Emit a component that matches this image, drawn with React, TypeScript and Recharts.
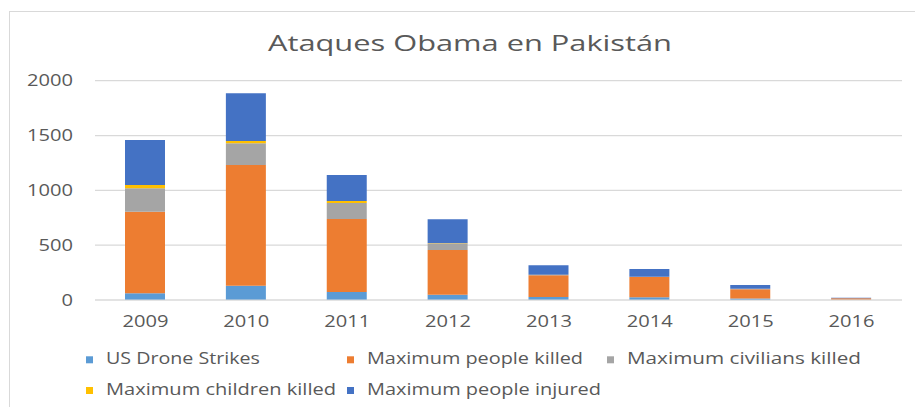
import { BarChart, Bar, XAxis, YAxis, CartesianGrid } from "recharts";

const years = ["2009", "2010", "2011", "2012", "2013", "2014", "2015", "2016"];
const droneStrikes = [61, 130, 73, 48, 27, 25, 13, 3];
const peopleKilled = [744, 1101, 666, 408, 198, 185, 85, 12];
const civiliansKilled = [214, 198, 146, 61, 4, 2, 5, 1];
const childrenKilled = [30, 21, 18, 2, 1, 0, 0, 0];
const peopleInjured = [410, 435, 237, 217, 87, 71, 34, 5];
const yTicks = [0, 500, 1000, 1500, 2000];

const series = [
  { key: "drone", name: "US Drone Strikes", color: "#5B9BD5", values: droneStrikes },
  { key: "killed", name: "Maximum people killed", color: "#ED7D31", values: peopleKilled },
  { key: "civilians", name: "Maximum civilians killed", color: "#A5A5A5", values: civiliansKilled },
  { key: "children", name: "Maximum children killed", color: "#FFC000", values: childrenKilled },
  { key: "injured", name: "Maximum people injured", color: "#4472C4", values: peopleInjured },
];

const data = years.map((year, i) => {
  const row: Record<string, string | number> = { year };
  series.forEach((s) => (row[s.key] = s.values[i]));
  return row;
});

const FONT = "'Open Sans', sans-serif";
const TEXT = "#595959";
const GRID = "#d9d9d9";

// legend slots (square x, text width, row)
const legendSlots = [
  { x: 86, w: 154, row: 0 },
  { x: 347, w: 216, row: 0 },
  { x: 607, w: 234, row: 0 },
  { x: 86, w: 230, row: 1 },
  { x: 347, w: 234, row: 1 },
];

const YTick = (props: any) => {
  const { x, y, payload } = props;
  const label = String(payload.value);
  return (
    <text x={x} y={y} dy={5.5} textAnchor="end" fill={TEXT} fontSize={15.5} fontFamily={FONT}
      textLength={label.length * 11.5} lengthAdjust="spacingAndGlyphs">
      {label}
    </text>
  );
};

const XTick = (props: any) => {
  const { x, y, payload } = props;
  return (
    <text x={x} y={y} textAnchor="middle" fill={TEXT} fontSize={15.5} fontFamily={FONT}
      textLength={46} lengthAdjust="spacingAndGlyphs">
      {payload.value}
    </text>
  );
};

export default function App() {
  return (
    <div style={{ position: "fixed", left: 0, top: 0, width: 915, height: 407, overflow: "hidden", background: "#fff" }}>
      <div style={{ position: "absolute", left: 9, top: 11, width: 1000, height: 500, borderLeft: `1.5px solid ${GRID}`, borderTop: `1.5px solid ${GRID}` }} />
      <div style={{ position: "absolute", left: 0, top: 0 }}>
        <BarChart width={915} height={407} data={data} barSize={40}
          margin={{ top: 80.7, right: 13, bottom: 77, left: 15 }}>
          <CartesianGrid vertical={false} stroke={GRID} strokeWidth={1.2} />
          <XAxis dataKey="year" height={30} axisLine={{ stroke: GRID, strokeWidth: 1.2 }} tickLine={false}
            tickSize={0} tickMargin={27} tick={<XTick />} interval={0} />
          <YAxis domain={[0, 2000]} ticks={yTicks} width={80} axisLine={false} tickLine={false}
            tickSize={0} tickMargin={22} tick={<YTick />} interval={0} />
          {series.map((s) => (
            <Bar key={s.key} dataKey={s.key} name={s.name} stackId="a" fill={s.color} isAnimationActive={false} />
          ))}
        </BarChart>
      </div>
      <svg width={915} height={407} style={{ position: "absolute", left: 0, top: 0, pointerEvents: "none" }}>
        <text x={268} y={50.7} fill={TEXT} fontSize={22.5} fontFamily={FONT}
          textLength={404} lengthAdjust="spacingAndGlyphs">
          Ataques Obama en Pakistán
        </text>
        {series.map((s, i) => {
          const slot = legendSlots[i];
          const base = slot.row === 0 ? 364.3 : 395;
          return (
            <g key={s.key}>
              <rect x={slot.x} y={base - 8} width={7} height={7} fill={s.color} />
              <text x={slot.x + 20} y={base} fill={TEXT} fontSize={15.5} fontFamily={FONT}
                textLength={slot.w} lengthAdjust="spacingAndGlyphs">
                {s.name}
              </text>
            </g>
          );
        })}
      </svg>
    </div>
  );
}
